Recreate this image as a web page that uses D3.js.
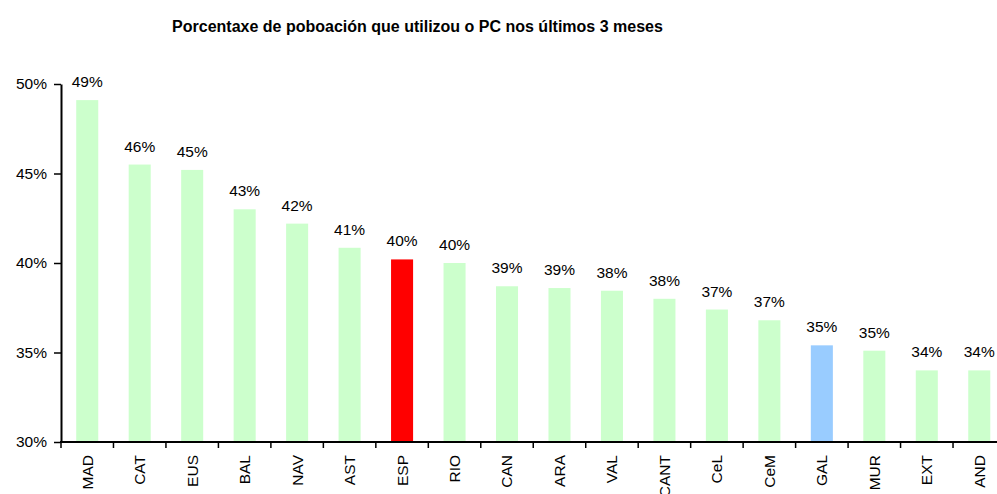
<!DOCTYPE html>
<html><head><meta charset="utf-8">
<script src="https://cdn.jsdelivr.net/npm/d3@7"></script>
<style>body{margin:0;background:#fff}svg{display:block;font-family:"Liberation Sans",Arial,sans-serif}</style>
</head><body>
<svg id="c" width="997" height="494"></svg>
<script>
const categories = ["MAD","CAT","EUS","BAL","NAV","AST","ESP","RIO","CAN","ARA","VAL","CANT","CeL","CeM","GAL","MUR","EXT","AND"];
const values = [49.1,45.5,45.2,43.0,42.2,40.85,40.2,40.0,38.7,38.6,38.45,38.0,37.4,36.8,35.4,35.1,34.0,34.0];
const yTicks = [30,35,40,45,50];
const title = "Porcentaxe de poboación que utilizou o PC nos últimos 3 meses";
const highlight = {"ESP":"#FF0000","GAL":"#99CCFF"};
const baseColor = "#CCFFCC";

const svg = d3.select("#c");
const x = d3.scaleBand().domain(categories).range([61,1005.5]).paddingInner(0.58).paddingOuter(0.29);
const y = d3.scaleLinear().domain([30,50]).range([442,84]);

svg.append("text").attr("x",417.5).attr("y",32).attr("text-anchor","middle")
  .attr("font-size","16px").attr("font-weight","bold").text(title);

svg.selectAll("rect.bar").data(categories).join("rect").attr("class","bar")
  .attr("x",d=>x(d)).attr("width",x.bandwidth())
  .attr("y",(d,i)=>y(values[i])).attr("height",(d,i)=>y(30)-y(values[i]))
  .attr("fill",d=>highlight[d]||baseColor);

svg.selectAll("text.lbl").data(categories).join("text").attr("class","lbl")
  .attr("x",d=>x(d)+x.bandwidth()/2).attr("y",(d,i)=>y(values[i])-13)
  .attr("text-anchor","middle").attr("font-size","15.5px")
  .text((d,i)=>Math.round(values[i])+"%");

const yAxis = svg.append("g").attr("transform","translate(61,0)")
  .call(d3.axisLeft(y).tickValues(yTicks).tickFormat(d=>d+"%").tickSize(7).tickSizeOuter(0));
yAxis.select(".domain").attr("stroke","#000").attr("stroke-width",2);
yAxis.selectAll(".tick line").attr("stroke","#000").attr("stroke-width",1.5);
yAxis.selectAll(".tick text").attr("font-size","15.5px").attr("fill","#000").attr("x",-14).attr("font-family","Liberation Sans, Arial, sans-serif");

const step = x.step();
const xAxis = svg.append("g").attr("transform","translate(0,442)");
xAxis.append("line").attr("x1",60).attr("x2",1006).attr("y1",0).attr("y2",0).attr("stroke","#000").attr("stroke-width",2);
xAxis.selectAll("line.tk").data(d3.range(categories.length+1)).join("line").attr("class","tk")
  .attr("x1",i=>61+i*step).attr("x2",i=>61+i*step).attr("y1",0).attr("y2",6)
  .attr("stroke","#000").attr("stroke-width",1.5);
xAxis.selectAll("text").data(categories).join("text")
  .attr("transform",d=>`translate(${x(d)+x.bandwidth()/2},13) rotate(-90)`)
  .attr("text-anchor","end").attr("dy","0.35em").attr("font-size","15.5px").text(d=>d);
</script>
</body></html>
